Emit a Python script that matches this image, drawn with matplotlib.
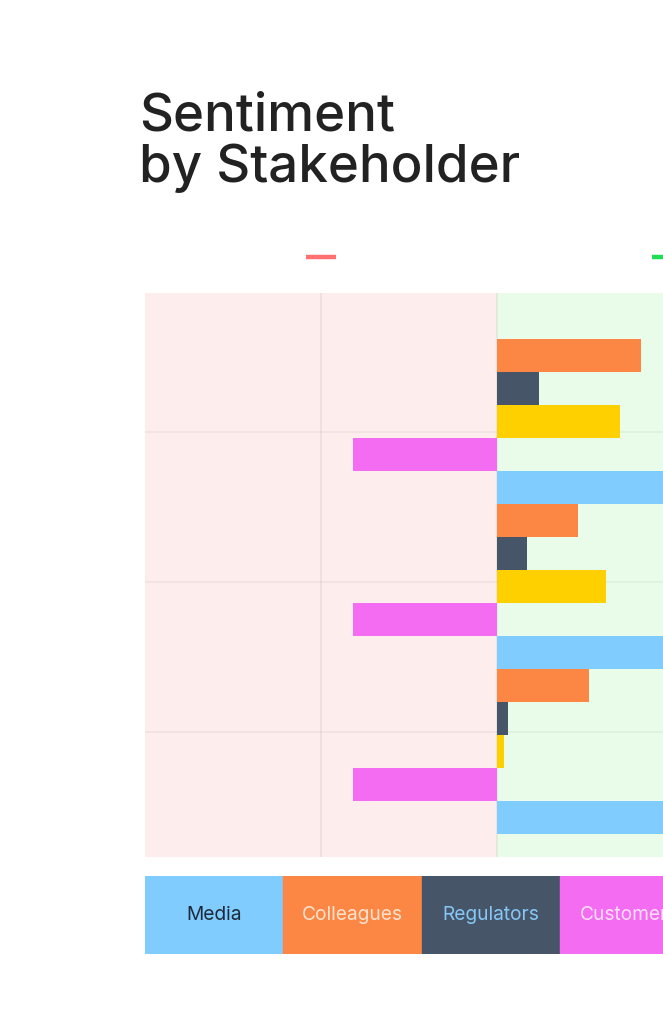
import numpy as np
import matplotlib
matplotlib.use("Agg")
import matplotlib.pyplot as plt
import matplotlib.transforms as mtransforms

plt.rcParams['font.family'] = ['Inter', 'DejaVu Sans']

# data: sentiment score (-100 .. 100) per stakeholder, three topics
groups = ['A', 'B', 'C']
legend_names = ['Media', 'Colleagues', 'Regulators', 'Customers', 'Investors']
legend_colors = ['#80ccff', '#fc8744', '#475569', '#f46cf2', '#ffd000']
legend_text = ['#1e2a3a', '#fde3cf', '#86c8f6', '#fde0fb', '#3a2f00']

# bar order inside a group (top to bottom)
bar_order = ['Colleagues', 'Regulators', 'Investors', 'Customers', 'Media']
values = {
    'Colleagues': [41, 23, 26],
    'Regulators': [12, 8.5, 3],
    'Investors': [35, 31, 2],
    'Customers': [-41, -41, -41],
    'Media': [65, 65, 65],
}
grid_y = [0.064, 0.973, 1.882]

fig = plt.figure(figsize=(6.63, 10.11), dpi=100)
W, H = 663, 1011

# main axes (extends past the right edge, like the cropped original)
left, right, top, bottom = 145, 849, 293, 857
ax = fig.add_axes([left / W, 1 - bottom / H, (right - left) / W, (bottom - top) / H])
ax.set_xlim(-100, 100)
ax.set_ylim(2.639, -0.779)
ax.axvspan(-100, 0, color='#feeded', zorder=0)
ax.axvspan(0, 100, color='#e9fce9', zorder=0)
for gx in [-50, 0, 50]:
    ax.axvline(gx, color='#000000', alpha=0.05, lw=1.5, zorder=1)
for gy in grid_y:
    ax.axhline(gy, color='#000000', alpha=0.04, lw=1.5, zorder=1)

h = 0.2
ypos = np.arange(len(groups))
for k, name in enumerate(bar_order):
    col = legend_colors[legend_names.index(name)]
    ax.barh(ypos + (k - 2) * h, values[name], height=h, color=col, zorder=2)

for s in ax.spines.values():
    s.set_visible(False)
ax.set_xticks([])
ax.set_yticks([])

# red / green markers above the axis
trans = mtransforms.blended_transform_factory(ax.transData, ax.transAxes)
ax.plot([-54.3, -45.7], [1.064, 1.064], color='#ff7070', lw=3.2,
        solid_capstyle='butt', transform=trans, clip_on=False)
ax.plot([44, 52.6], [1.064, 1.064], color='#22dd55', lw=3.2,
        solid_capstyle='butt', transform=trans, clip_on=False)

# legend strip
lax = fig.add_axes([left / W, 1 - 954 / H, 692 / W, 78 / H])
lax.set_xlim(0, len(legend_names))
lax.set_ylim(0, 1)
for i, name in enumerate(legend_names):
    lax.axvspan(i, i + 1, color=legend_colors[i])
    lax.text(i + 0.5, 0.5, name, ha='center', va='center', fontsize=13.8,
             color=legend_text[i], fontweight='normal')
lax.axis('off')

fig.text(139 / W, 1 - 182 / H, 'Sentiment\nby Stakeholder', fontsize=38,
         fontweight='medium', color='#222222', ha='left', va='baseline',
         linespacing=1.05)

fig.savefig('out.png', dpi=100)
